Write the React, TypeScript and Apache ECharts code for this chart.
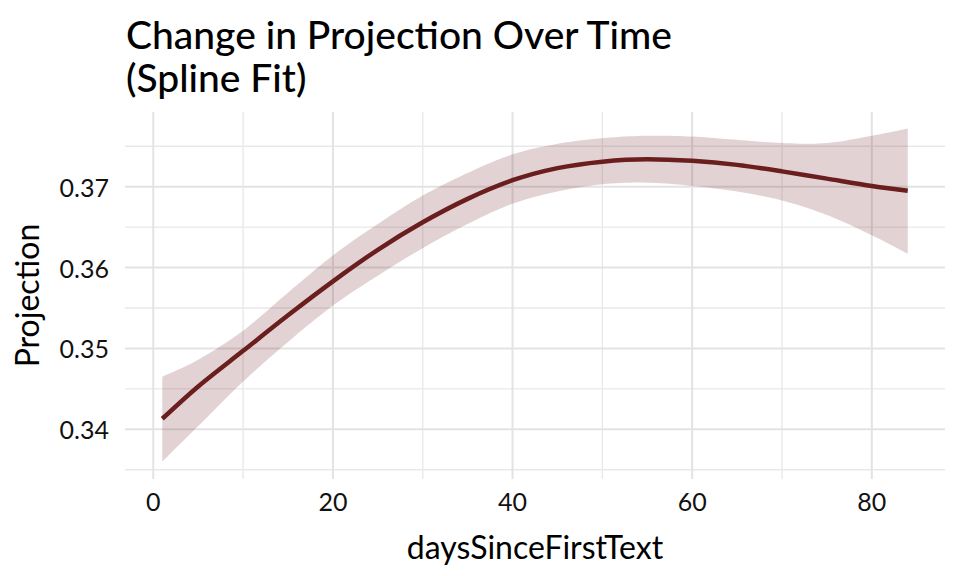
import React, { useEffect, useRef } from "react";
import * as echarts from "echarts";

const days = [1, 5, 10, 15, 20, 25, 30, 35, 40, 45, 50, 55, 60, 65, 70, 75, 80, 84];
const fitValues = [0.3413, 0.3453, 0.3497, 0.3541, 0.3583, 0.3622, 0.3656, 0.3685, 0.3708, 0.3723, 0.3731, 0.3734, 0.3732, 0.3727, 0.3719, 0.3710, 0.3701, 0.3695];
const upperValues = [0.3465, 0.3486, 0.3522, 0.3569, 0.3615, 0.3654, 0.3689, 0.3717, 0.3740, 0.3753, 0.3760, 0.3763, 0.3762, 0.3758, 0.3754, 0.3754, 0.3763, 0.3772];
const lowerValues = [0.3360, 0.3404, 0.3459, 0.3508, 0.3553, 0.3590, 0.3624, 0.3654, 0.3679, 0.3694, 0.3703, 0.3705, 0.3701, 0.3694, 0.3683, 0.3665, 0.3640, 0.3617];
const xTicks = [0, 20, 40, 60, 80];
const xMinorTicks = [10, 30, 50, 70];
const yTicks = [0.34, 0.35, 0.36, 0.37];
const yMinorTicks = [0.335, 0.345, 0.355, 0.365, 0.375];

const FONT = "Lato, 'Noto Sans', sans-serif";

function catmull(pts: number[][], steps = 10): number[][] {
  const out: number[][] = [];
  for (let i = 0; i < pts.length - 1; i++) {
    const p0 = pts[Math.max(0, i - 1)];
    const p1 = pts[i];
    const p2 = pts[i + 1];
    const p3 = pts[Math.min(pts.length - 1, i + 2)];
    for (let s = 0; s < steps; s++) {
      const t = s / steps;
      const t2 = t * t;
      const t3 = t2 * t;
      const f = (a: number, b: number, c: number, d: number) =>
        0.5 * (2 * b + (-a + c) * t + (2 * a - 5 * b + 4 * c - d) * t2 + (-a + 3 * b - 3 * c + d) * t3);
      out.push([f(p0[0], p1[0], p2[0], p3[0]), f(p0[1], p1[1], p2[1], p3[1])]);
    }
  }
  out.push(pts[pts.length - 1]);
  return out;
}

export default function App() {
  const ref = useRef<HTMLDivElement>(null);
  useEffect(() => {
    if (!ref.current) return;
    const chart = echarts.init(ref.current, undefined, { renderer: "svg" });
    const fitData = days.map((d, i) => [d, fitValues[i]]);
    const majorStyle = { stroke: "#e3e3e3", lineWidth: 2 };
    const minorStyle = { stroke: "#e9e9e9", lineWidth: 1.4 };
    chart.setOption({
      animation: false,
      backgroundColor: "#ffffff",
      textStyle: { fontFamily: FONT },
      title: {
        text: "Change in Projection Over Time\n(Spline Fit)",
        left: 121,
        top: 7,
        textStyle: { fontFamily: FONT, fontSize: 39, fontWeight: 500, color: "#000", lineHeight: 43 },
      },
      grid: { left: 125, right: 15, top: 112, bottom: 97, containLabel: false },
      xAxis: {
        type: "value",
        min: -3.15,
        max: 88.15,
        name: "daysSinceFirstText",
        nameLocation: "middle",
        nameGap: 51,
        nameTextStyle: { fontFamily: FONT, fontSize: 32, color: "#000" },
        axisLine: { show: false },
        axisTick: { show: false },
        axisLabel: {
          fontFamily: FONT,
          fontSize: 25,
          color: "#111",
          margin: 9,
          customValues: xTicks,
          formatter: (v: number) => String(v),
        },
        splitLine: { show: false },
      },
      yAxis: {
        type: "value",
        min: 0.33385,
        max: 0.37924,
        name: "Projection",
        nameLocation: "middle",
        nameGap: 83,
        nameRotate: 90,
        nameTextStyle: { fontFamily: FONT, fontSize: 32, color: "#000" },
        axisLine: { show: false },
        axisTick: { show: false },
        axisLabel: {
          fontFamily: FONT,
          fontSize: 25,
          color: "#111",
          margin: 16,
          customValues: yTicks,
          formatter: (v: number) => v.toFixed(2),
        },
        splitLine: { show: false },
      },
      series: [
        {
          type: "custom",
          data: [[xTicks[0], yTicks[0]]],
          silent: true,
          z: 0,
          clip: false,
          renderItem: (params: any, api: any) => {
            const cs = params.coordSys;
            const left = cs.x;
            const right = cs.x + cs.width;
            const top = cs.y;
            const bottom = cs.y + cs.height;
            const children: any[] = [];
            const vLine = (v: number, style: any) => {
              const x = api.coord([v, yTicks[0]])[0];
              children.push({ type: "line", shape: { x1: x, y1: top, x2: x, y2: bottom }, style });
            };
            const hLine = (v: number, style: any) => {
              const y = api.coord([xTicks[0], v])[1];
              children.push({ type: "line", shape: { x1: left, y1: y, x2: right, y2: y }, style });
            };
            xMinorTicks.forEach((v) => vLine(v, minorStyle));
            yMinorTicks.forEach((v) => hLine(v, minorStyle));
            xTicks.forEach((v) => vLine(v, majorStyle));
            yTicks.forEach((v) => hLine(v, majorStyle));
            return { type: "group", children };
          },
        },
        {
          type: "custom",
          data: [[days[0], lowerValues[0]]],
          silent: true,
          z: 1,
          clip: true,
          renderItem: (_params: any, api: any) => {
            const up = days.map((d, i) => api.coord([d, upperValues[i]]));
            const lo = days.map((d, i) => api.coord([d, lowerValues[i]]));
            const pts = [...catmull(up), ...catmull(lo).reverse()];
            return {
              type: "polygon",
              shape: { points: pts },
              style: { fill: "rgba(110,30,38,0.2)", stroke: "none" },
            };
          },
        },
        {
          type: "line",
          data: fitData,
          smooth: 0.3,
          symbol: "none",
          lineStyle: { color: "#6a1e1e", width: 4.5 },
          z: 3,
        },
      ],
    });
    return () => chart.dispose();
  }, []);
  return <div ref={ref} style={{ width: 960, height: 576, position: "absolute", left: 0, top: 0 }} />;
}
